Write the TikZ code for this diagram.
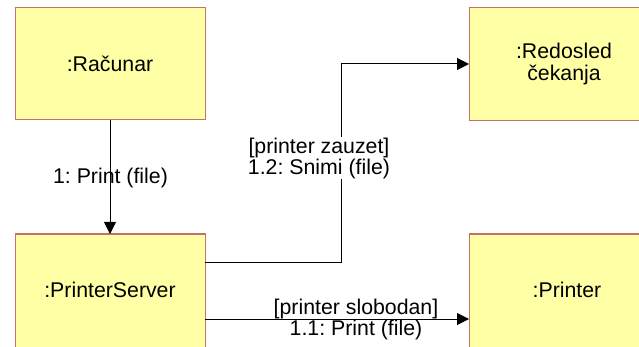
\documentclass[tikz,border=0pt]{standalone}
\usepackage{fontspec}
\setmainfont{Liberation Sans}
\frenchspacing
\usetikzlibrary{arrows.meta}
\definecolor{boxfill}{RGB}{255,255,165}
\definecolor{boxline}{RGB}{200,112,100}
\tikzset{
  objbox/.style={draw=boxline, fill=boxfill, line width=1pt, inner sep=0pt},
  objtext/.style={font=\fontsize{21.3}{22}\selectfont, align=center, inner sep=0pt},
  msg/.style={draw=black, line width=1pt, -{Triangle[length=12pt,width=12pt]}},
  lbl/.style={font=\fontsize{21.3}{21}\selectfont, align=center, inner sep=1pt}
}
\begin{document}
\begin{tikzpicture}[x=1pt,y=-1pt]
\useasboundingbox (0,0) rectangle (639,347);
\clip (0,0) rectangle (639,347);
% boxes
\draw[objbox] (15,8) rectangle (205,120);
\draw[objbox] (15,234) rectangle (205,352);
\draw[objbox] (469,8) rectangle (665,121);
\draw[objbox] (469,234) rectangle (665,352);
\node[objtext] (rac) at (110,64) {:Računar};
\node[objtext] (ps) at (110,290) {:PrinterServer};
\node[objtext] (red) at (564,64) {:Redosled\\čekanja};
\node[objtext] (pr) at (567,290) {:Printer};
% anchor coordinates
\coordinate (racB) at (110,120);
\coordinate (psT) at (110,234);
\coordinate (psR1) at (205,262);
\coordinate (bend1) at (341,262);
\coordinate (bend2) at (341,64);
\coordinate (redL) at (469,64);
\coordinate (psR2) at (205,319);
\coordinate (prL) at (469,319);
% connectors
\draw[msg] (racB) -- (psT);
\node[lbl] (l1) at (110.5,178) {1: Print (file)};
\draw[msg] (psR1) -- (bend1) -- (bend2) -- (redL);
\node[lbl, fill=white] (l12) at (319,158) {[printer zauzet]\\1.2: Snimi (file)};
\draw[msg] (psR2) -- (prL);
\node[lbl] (l11) at (356,319) {[printer slobodan]\\1.1: Print (file)};
\end{tikzpicture}
\end{document}
